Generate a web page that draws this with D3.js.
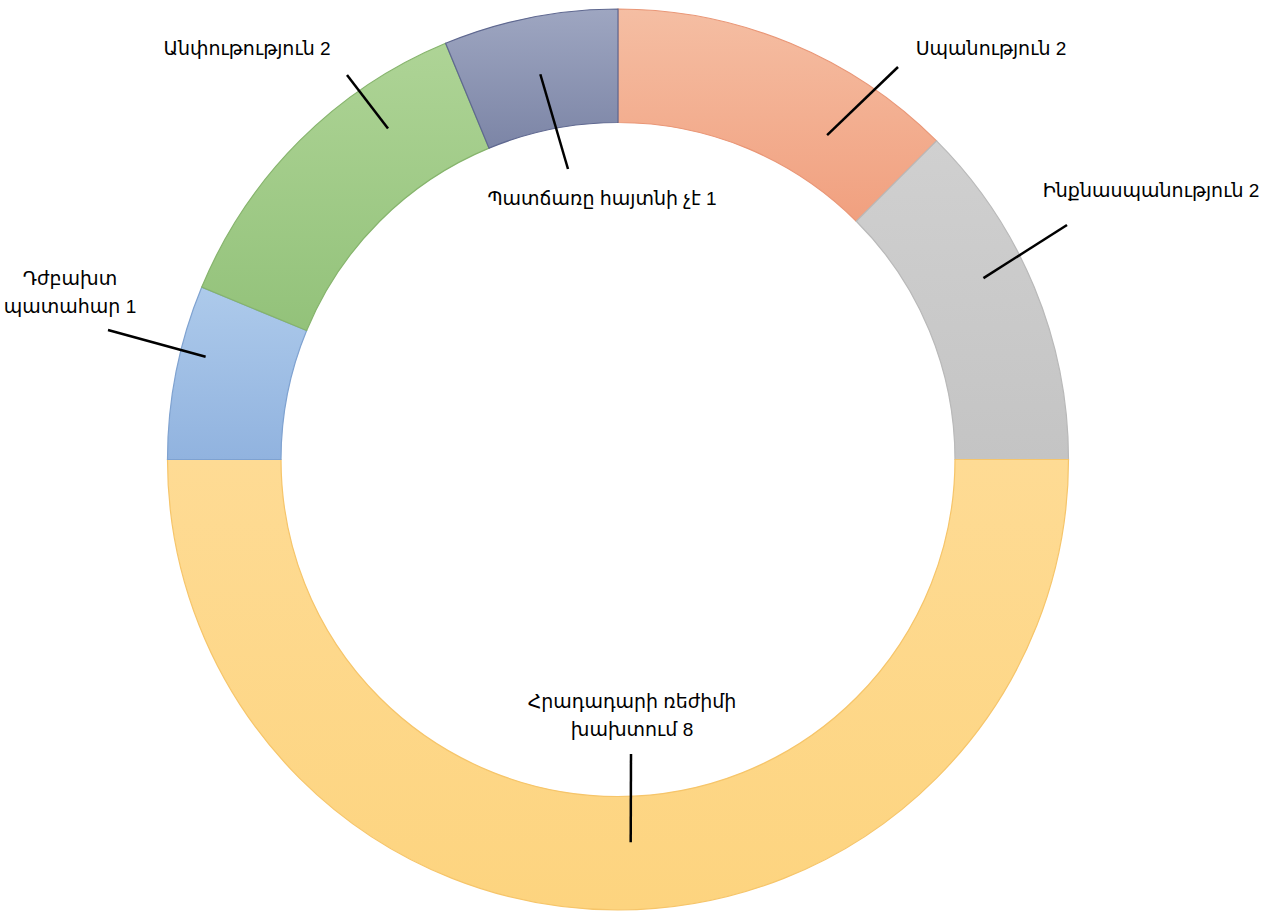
<!DOCTYPE html>
<html>
<head>
<meta charset="utf-8">
<script src="https://cdn.jsdelivr.net/npm/d3@7"></script>
<style>
  html, body { margin: 0; padding: 0; background: #fff; }
  svg text { font-family: "Liberation Sans", "DejaVu Sans", sans-serif; font-size: 19px; fill: #000; }
</style>
</head>
<body>
<svg id="svg"></svg>
<script>
const WIDTH = 1272, HEIGHT = 913;

// data, clockwise from 12 o'clock
const categories = ["Սպանություն", "Ինքնասպանություն", "Հրադադարի ռեժիմի խախտում", "Դժբախտ պատահար", "Անփութություն", "Պատճառը հայտնի չէ"];
const values = [2, 2, 8, 1, 2, 1];
// label text lines (value appended on the last line)
const labelLines = [["Սպանություն"], ["Ինքնասպանություն"], ["Հրադադարի ռեժիմի", "խախտում"], ["Դժբախտ", "պատահար"], ["Անփութություն"], ["Պատճառը հայտնի չէ"]];

// colours (top, bottom, edge)
const colorsTop = ["#f5bea3", "#d0d0d0", "#fedb94", "#adcaeb", "#aed496", "#9ea6c1"];
const colorsBot = ["#f1a07f", "#c4c4c4", "#fdd47f", "#91b3df", "#93c27a", "#7c85a6"];
const colorsEdge = ["#e99676", "#b9b9b9", "#f6c56a", "#7fa2d0", "#86b46c", "#5f6890"];

// label layout: text centre x, first baseline y, leader start near text, leader end in slice as (angle deg, radius)
const labelPos = [
  {x: 991, y: 55, lx: 898, ly: 67, a: 32.8, r: 386},
  {x: 1151, y: 197, lx: 1067, ly: 225, a: 63.6, r: 408},
  {x: 632, y: 708, lx: 631, ly: 754, a: 178.1, r: 383},
  {x: 70, y: 285, lx: 108, ly: 330, a: 284.0, r: 425},
  {x: 247, y: 55, lx: 347, ly: 75, a: 325.2, r: 403},
  {x: 602, y: 205, lx: 568, ly: 169, a: 348.6, r: 393}
];

const cx = 618, cy = 459.5, outerR = 450.5, innerR = 337;

const svg = d3.select('#svg').attr('width', WIDTH).attr('height', HEIGHT);
const defs = svg.append('defs');
colorsTop.forEach((c, i) => {
  const g = defs.append('linearGradient').attr('id', 'grad' + i)
    .attr('x1', 0).attr('y1', 0).attr('x2', 0).attr('y2', 1);
  g.append('stop').attr('offset', '0%').attr('stop-color', c);
  g.append('stop').attr('offset', '100%').attr('stop-color', colorsBot[i]);
});

const pie = d3.pie().sort(null).value(d => d);
const arcs = pie(values);
const arc = d3.arc().innerRadius(innerR).outerRadius(outerR);

const g = svg.append('g').attr('transform', 'translate(' + cx + ',' + cy + ')');
g.selectAll('path.slice').data(arcs).enter().append('path')
  .attr('class', 'slice')
  .attr('d', arc)
  .attr('fill', (d, i) => 'url(#grad' + i + ')')
  .attr('stroke', (d, i) => colorsEdge[i])
  .attr('stroke-width', 1.2);

// leader lines
const toXY = (deg, r) => {
  const a = deg * Math.PI / 180;
  return [cx + r * Math.sin(a), cy - r * Math.cos(a)];
};
labelPos.forEach((p, i) => {
  const e = toXY(p.a, p.r);
  svg.append('line')
    .attr('x1', p.lx).attr('y1', p.ly).attr('x2', e[0]).attr('y2', e[1])
    .attr('stroke', '#000').attr('stroke-width', 2.5);
});

// labels
labelLines.forEach((lines, i) => {
  const p = labelPos[i];
  const t = svg.append('text').attr('text-anchor', 'middle');
  lines.forEach((ln, j) => {
    const last = j === lines.length - 1;
    t.append('tspan').attr('x', p.x).attr('y', p.y + j * 28)
      .text(last ? ln + ' ' + values[i] : ln);
  });
});
</script>
</body>
</html>
